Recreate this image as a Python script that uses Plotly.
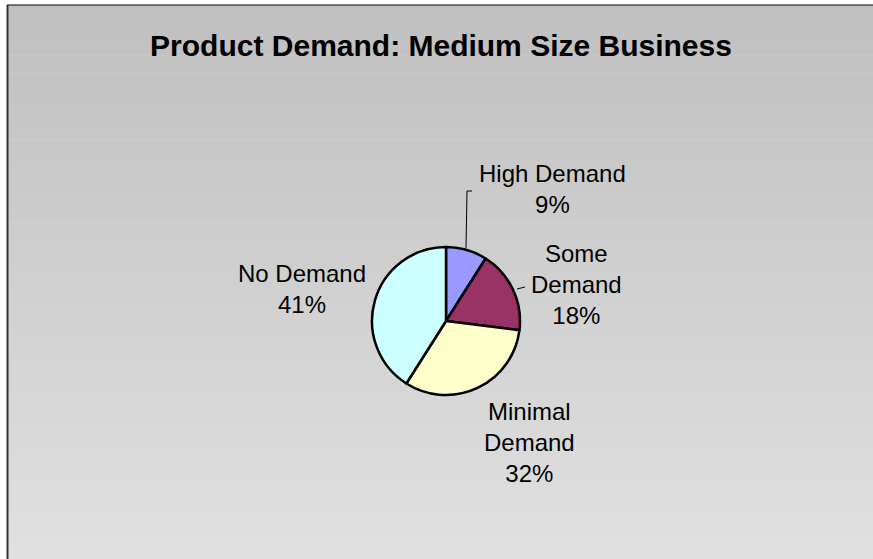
import plotly.graph_objects as go

# Share of medium-size businesses by product demand level
categories = ["High Demand", "Some Demand", "Minimal Demand", "No Demand"]
shares = [9, 18, 32, 41]
slice_colors = ["#9999FF", "#993366", "#FFFFCC", "#CCFFFF"]

# Label text lines (category words wrapped as in the chart)
label_lines = [["High Demand"], ["Some", "Demand"], ["Minimal", "Demand"], ["No Demand"]]

W, H = 873, 559


def px(x):
    return x / W


def py(y):
    return 1 - y / H


# Pie placement (pixels)
cx, cy, r = 446, 321, 74

# Label anchor points (pixel centres of each text block)
label_pos = [(552, 189), (576, 284), (529, 442), (302, 289)]

fig = go.Figure()

fig.add_trace(go.Pie(
    labels=categories,
    values=shares,
    sort=False,
    direction="clockwise",
    rotation=0,
    marker=dict(colors=slice_colors, line=dict(color="black", width=2.5)),
    textinfo="none",
    hoverinfo="label+percent",
    showlegend=False,
    domain=dict(x=[px(cx - r), px(cx + r)], y=[py(cy + r), py(cy - r)]),
))

shapes = []
# Vertical grey gradient background inside the chart frame
top, bottom = 5, H
c_top, c_bot = 192, 224
n_bands = c_bot - c_top + 1
band_h = (bottom - top) / n_bands
for i in range(n_bands):
    g = c_top + i
    shapes.append(dict(
        type="rect", xref="paper", yref="paper", layer="below",
        x0=px(7), x1=1,
        y0=py(top + (i + 1) * band_h + 0.5), y1=py(top + i * band_h),
        fillcolor=f"rgb({g},{g},{g})", line=dict(width=0),
    ))

# Frame edges
shapes.append(dict(type="line", xref="paper", yref="paper",
                   x0=px(7), x1=1, y0=py(5), y1=py(5),
                   line=dict(color="black", width=1)))
shapes.append(dict(type="line", xref="paper", yref="paper",
                   x0=px(7.5), x1=px(7.5), y0=py(5), y1=0,
                   line=dict(color="#333333", width=2)))

# Leader lines
shapes.append(dict(type="path", xref="paper", yref="paper",
                   path=f"M {px(472)},{py(191)} L {px(467)},{py(191)} L {px(466)},{py(248)}",
                   line=dict(color="black", width=1)))
shapes.append(dict(type="line", xref="paper", yref="paper",
                   x0=px(517), y0=py(289), x1=px(525), y1=py(287),
                   line=dict(color="black", width=1)))

total = sum(shares)
annotations = []
for lines, v, (lx, ly) in zip(label_lines, shares, label_pos):
    pct = round(100 * v / total)
    text = "<br>".join(lines + [f"{pct}%"])
    annotations.append(dict(
        x=px(lx), y=py(ly), xref="paper", yref="paper",
        text=text, showarrow=False, xanchor="center", yanchor="middle",
        align="center",
        font=dict(family="Arial, Liberation Sans, sans-serif", size=24, color="black"),
    ))

fig.update_layout(
    width=W, height=H, autosize=False,
    margin=dict(l=0, r=0, t=0, b=0),
    paper_bgcolor="white",
    plot_bgcolor="rgba(0,0,0,0)",
    title=dict(
        text="<b>Product Demand: Medium Size Business</b>",
        x=px(441), xanchor="center", y=py(45), yanchor="middle",
        font=dict(family="Arial, Liberation Sans, sans-serif", size=30, color="black"),
    ),
    shapes=shapes,
    annotations=annotations,
)

fig.write_html("out.html")
